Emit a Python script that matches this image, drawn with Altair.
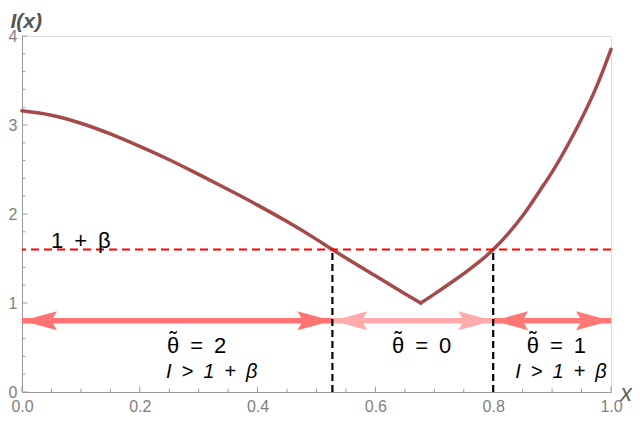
import altair as alt
import pandas as pd

# ---- data ----
curve_x = [0.00, 0.05, 0.10, 0.15, 0.20, 0.25, 0.30, 0.35, 0.40, 0.45, 0.50, 0.527,
           0.55, 0.60, 0.65, 0.677, 0.70, 0.733, 0.75, 0.80, 0.85, 0.88, 0.90, 0.936,
           0.95, 0.976, 1.00]
curve_i = [3.16, 3.11, 3.02, 2.90, 2.76, 2.61, 2.445, 2.275, 2.10, 1.915, 1.715, 1.60,
           1.505, 1.305, 1.105, 1.00, 1.10, 1.25, 1.33, 1.60, 1.98, 2.27, 2.47, 2.89,
           3.07, 3.44, 3.85]
x_min_point = 0.677

threshold = 1.6
cross_x = [0.527, 0.80]

arrow_y = 0.8
seg_start = [0.0, 0.527, 0.80]
seg_end = [0.527, 0.80, 1.0]
seg_color = ["#ff7373", "#ffabab", "#ff7878"]

theta_labels = ["θ\u2002=\u20022", "θ\u2002=\u20020", "θ\u2002=\u20021"]
theta_left_x = [0.246, 0.628, 0.857]
theta_y = 0.44

cond_labels = ["I\u2002>\u20021\u2002+\u2002β", "I\u2002>\u20021\u2002+\u2002β"]
cond_x = [0.322, 0.915]
cond_y = 0.16

beta_label = "1\u2002+\u2002β"
beta_x = 0.10
beta_y = 1.615

x_major = [0.0, 0.2, 0.4, 0.6, 0.8, 1.0]
x_minor = [0.05, 0.10, 0.15, 0.25, 0.30, 0.35, 0.45, 0.50, 0.55, 0.65, 0.70, 0.75,
           0.85, 0.90, 0.95]
y_major = [0, 1, 2, 3, 4]
y_minor = [0.2, 0.4, 0.6, 0.8, 1.2, 1.4, 1.6, 1.8, 2.2, 2.4, 2.6, 2.8, 3.2, 3.4, 3.6, 3.8]

# ---- tables ----
W, H = 589, 356
FONT = "Liberation Sans"
GRAY = "#9a9a9a"

curve_df = pd.DataFrame({"x": curve_x, "I": curve_i})
curve_df["side"] = ["L" if v <= x_min_point else "R" for v in curve_x]
extra = curve_df[curve_df["x"] == x_min_point].copy()
extra["side"] = "R"
curve_df = pd.concat([curve_df, extra]).sort_values(["side", "x"]).reset_index(drop=True)

arrows_df = pd.DataFrame({"x0": seg_start, "x1": seg_end, "y": [arrow_y] * 3, "col": seg_color})
vlines_df = pd.DataFrame({"x": cross_x, "y0": [0] * len(cross_x), "y1": [threshold] * len(cross_x)})
hline_df = pd.DataFrame({"y": [threshold]})
theta_df = pd.DataFrame({"t": theta_labels, "x": theta_left_x, "y": [theta_y] * 3})
cond_df = pd.DataFrame({"t": cond_labels, "x": cond_x, "y": [cond_y] * 2})
beta_df = pd.DataFrame({"t": [beta_label], "x": [beta_x], "y": [beta_y]})

xs = alt.Scale(domain=[0, 1], nice=False, zero=False)
ys = alt.Scale(domain=[0, 4], nice=False, zero=False)

x_axis = alt.Axis(
    values=x_major, format=".1f", ticks=False, grid=False, labelFlush=False,
    domainColor=GRAY, labelColor="#808080", labelFont=FONT, labelFontSize=16,
    labelPadding=6, title="x", titleX=W + 9, titleY=8, titleAlign="left",
    titleBaseline="alphabetic", titleFont=FONT, titleFontSize=23,
    titleFontStyle="italic", titleFontWeight="normal", titleColor="#606060")
y_axis = alt.Axis(
    values=y_major, format="d", ticks=False, grid=False, labelFlush=False,
    domainColor=GRAY, labelColor="#808080", labelFont=FONT, labelFontSize=16,
    labelPadding=5, title="I(x)", titleAngle=0, titleX=-12, titleY=-9,
    titleAlign="left", titleBaseline="alphabetic", titleFont=FONT, titleFontSize=21,
    titleFontStyle="italic", titleFontWeight="bold", titleColor="#555555")


def X(f):
    return alt.X(f, scale=xs, axis=x_axis)


def Y(f):
    return alt.Y(f, scale=ys, axis=y_axis)


curve = alt.Chart(curve_df).mark_line(
    color="#a34a4a", strokeWidth=3.5, interpolate="monotone", strokeCap="round"
).encode(x=X("x:Q"), y=Y("I:Q"), detail="side:N")

hline = alt.Chart(hline_df).mark_rule(color="#ff0000", strokeWidth=2, strokeDash=[8, 5]).encode(
    y=Y("y:Q")
)

shafts = alt.Chart(arrows_df).mark_rule(strokeWidth=5.5).encode(
    x=X("x0:Q"), x2="x1:Q", y=Y("y:Q"), color=alt.Color("col:N", scale=None),
)

right_head = "M0,0 L-1,-0.27 L-0.84,0 L-1,0.27 Z"
left_head = "M0,0 L1,-0.27 L0.84,0 L1,0.27 Z"

heads_r = alt.Chart(arrows_df).mark_point(shape=right_head, filled=True, size=4900, opacity=1, strokeWidth=0).encode(
    x=X("x1:Q"), y=Y("y:Q"), color=alt.Color("col:N", scale=None),
)
heads_l = alt.Chart(arrows_df).mark_point(shape=left_head, filled=True, size=4900, opacity=1, strokeWidth=0).encode(
    x=X("x0:Q"), y=Y("y:Q"), color=alt.Color("col:N", scale=None),
)

vlines = alt.Chart(vlines_df).mark_rule(color="black", strokeWidth=2.2, strokeDash=[7, 4]).encode(
    x=X("x:Q"), y=Y("y0:Q"), y2="y1:Q",
)

theta_txt = alt.Chart(theta_df).mark_text(font=FONT, fontSize=22, color="black", align="left", baseline="alphabetic").encode(
    x=X("x:Q"), y=Y("y:Q"), text="t:N"
)
tilde_txt = alt.Chart(theta_df).mark_text(font=FONT, fontSize=22, color="black", align="center",
                                          baseline="alphabetic", dx=6.2, dy=-6).encode(
    x=X("x:Q"), y=Y("y:Q"), text=alt.value("˜")
)
cond_txt = alt.Chart(cond_df).mark_text(font=FONT, fontSize=20, fontStyle="italic", color="black", align="center", baseline="alphabetic").encode(
    x=X("x:Q"), y=Y("y:Q"), text="t:N"
)
beta_txt = alt.Chart(beta_df).mark_text(font=FONT, fontSize=22, color="black", align="center", baseline="alphabetic").encode(
    x=X("x:Q"), y=Y("y:Q"), text="t:N"
)

xt_major = alt.Chart(pd.DataFrame({"v": x_major})).mark_rule(color=GRAY, strokeWidth=1).encode(
    x=X("v:Q"), y=alt.value(H), y2=alt.value(H - 5.5)
)
xt_minor = alt.Chart(pd.DataFrame({"v": x_minor})).mark_rule(color=GRAY, strokeWidth=1).encode(
    x=X("v:Q"), y=alt.value(H), y2=alt.value(H - 3.3)
)
yt_major = alt.Chart(pd.DataFrame({"v": y_major})).mark_rule(color=GRAY, strokeWidth=1).encode(
    y=Y("v:Q"), x=alt.value(0), x2=alt.value(5.5)
)
yt_minor = alt.Chart(pd.DataFrame({"v": y_minor})).mark_rule(color=GRAY, strokeWidth=1).encode(
    y=Y("v:Q"), x=alt.value(0), x2=alt.value(3.3)
)

chart = alt.layer(
    curve, xt_major, xt_minor, yt_major, yt_minor, hline, shafts, heads_l, heads_r,
    vlines, theta_txt, tilde_txt, cond_txt, beta_txt
).properties(
    width=W, height=H,
    autosize=alt.AutoSizeParams(type="none"),
    padding={"left": 14, "top": 28, "right": 21, "bottom": 25},
).configure_view(stroke=None).configure(background="white")

chart.save("out.html", embed_options={"renderer": "svg", "actions": False})
